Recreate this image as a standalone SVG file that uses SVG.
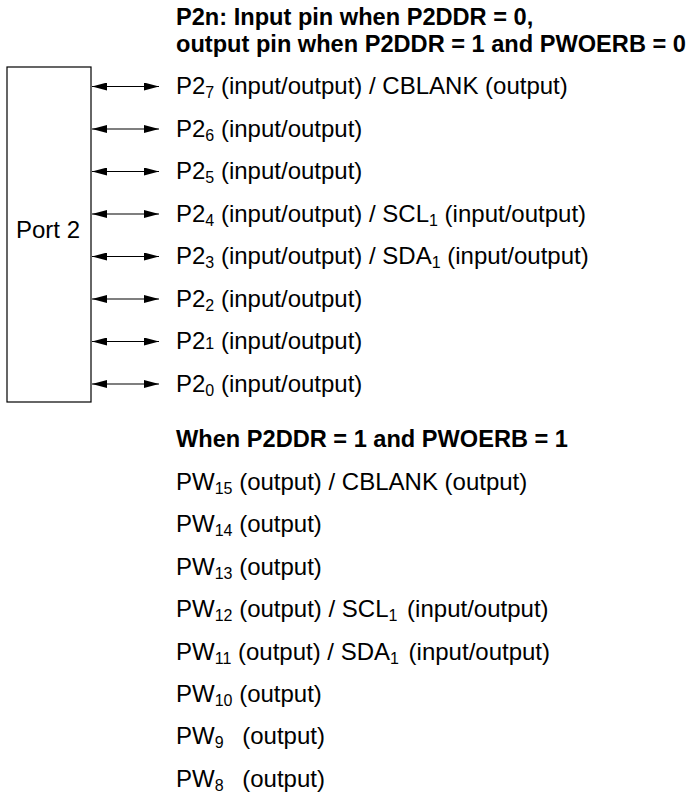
<svg xmlns="http://www.w3.org/2000/svg" width="695" height="798" viewBox="0 0 695 798">
<style>
text{font-family:"Liberation Sans",Arial,sans-serif;font-size:24px;fill:#000}
.b{font-weight:bold;font-size:23.6px}
.s{font-size:16px}
line{stroke:#000;stroke-width:1.2}
</style>
<defs>
<marker id="ah" markerWidth="15" markerHeight="8" refX="15" refY="4" orient="auto-start-reverse" markerUnits="userSpaceOnUse">
<path d="M0,0 L15,4 L0,8 Z" fill="#000"/>
</marker>
</defs>
<g id="title">
<text class="b" x="176" y="25">P2n: Input pin when P2DDR = 0,</text>
<text class="b" x="176" y="52">output pin when P2DDR = 1 and PWOERB = 0</text>
</g>
<g id="port2">
<rect x="7" y="67" width="84" height="335" fill="#fff" stroke="#000" stroke-width="1.2"/>
<text x="48" y="238" text-anchor="middle">Port 2</text>
</g>
<g id="connectors">
<line x1="92" y1="86.5" x2="159" y2="86.5" marker-start="url(#ah)" marker-end="url(#ah)"/>
<line x1="92" y1="129" x2="159" y2="129" marker-start="url(#ah)" marker-end="url(#ah)"/>
<line x1="92" y1="171.5" x2="159" y2="171.5" marker-start="url(#ah)" marker-end="url(#ah)"/>
<line x1="92" y1="214" x2="159" y2="214" marker-start="url(#ah)" marker-end="url(#ah)"/>
<line x1="92" y1="256.5" x2="159" y2="256.5" marker-start="url(#ah)" marker-end="url(#ah)"/>
<line x1="92" y1="299" x2="159" y2="299" marker-start="url(#ah)" marker-end="url(#ah)"/>
<line x1="92" y1="341.5" x2="159" y2="341.5" marker-start="url(#ah)" marker-end="url(#ah)"/>
<line x1="92" y1="384" x2="159" y2="384" marker-start="url(#ah)" marker-end="url(#ah)"/>
</g>
<g id="pins">
<text x="176" y="94">P2<tspan class="s" dy="4">7</tspan><tspan dy="-4"> (input/output) / CBLANK (output)</tspan></text>
<text x="176" y="136.5">P2<tspan class="s" dy="4">6</tspan><tspan dy="-4"> (input/output)</tspan></text>
<text x="176" y="179">P2<tspan class="s" dy="4">5</tspan><tspan dy="-4"> (input/output)</tspan></text>
<text x="176" y="221.5">P2<tspan class="s" dy="4">4</tspan><tspan dy="-4"> (input/output) / SCL</tspan><tspan class="s" dy="4">1</tspan><tspan dy="-4"> (input/output)</tspan></text>
<text x="176" y="264">P2<tspan class="s" dy="4">3</tspan><tspan dy="-4"> (input/output) / SDA</tspan><tspan class="s" dy="4">1</tspan><tspan dy="-4"> (input/output)</tspan></text>
<text x="176" y="306.5">P2<tspan class="s" dy="4">2</tspan><tspan dy="-4"> (input/output)</tspan></text>
<text x="176" y="349">P2<tspan class="s">1</tspan> (input/output)</text>
<text x="176" y="391.5">P2<tspan class="s" dy="4">0</tspan><tspan dy="-4"> (input/output)</tspan></text>
</g>
<g id="pwm">
<text class="b" x="176" y="447">When P2DDR = 1 and PWOERB = 1</text>
<text x="176" y="490">PW<tspan class="s" dy="4">15</tspan><tspan dy="-4"> (output) / CBLANK (output)</tspan></text>
<text x="176" y="532.4">PW<tspan class="s" dy="4">14</tspan><tspan dy="-4"> (output)</tspan></text>
<text x="176" y="574.8">PW<tspan class="s" dy="4">13</tspan><tspan dy="-4"> (output)</tspan></text>
<text x="176" y="617.2">PW<tspan class="s" dy="4">12</tspan><tspan dy="-4"> (output) / SCL</tspan><tspan class="s" dy="4">1</tspan><tspan dy="-4" dx="3"> (input/output)</tspan></text>
<text x="176" y="659.6">PW<tspan class="s" dy="4">11</tspan><tspan dy="-4"> (output) / SDA</tspan><tspan class="s" dy="4">1</tspan><tspan dy="-4" dx="3"> (input/output)</tspan></text>
<text x="176" y="702">PW<tspan class="s" dy="4">10</tspan><tspan dy="-4"> (output)</tspan></text>
<text x="176" y="744.4">PW<tspan class="s" dy="4">9</tspan><tspan dy="-4" dx="12"> (output)</tspan></text>
<text x="176" y="786.8">PW<tspan class="s" dy="4">8</tspan><tspan dy="-4" dx="12"> (output)</tspan></text>
</g>
</svg>
